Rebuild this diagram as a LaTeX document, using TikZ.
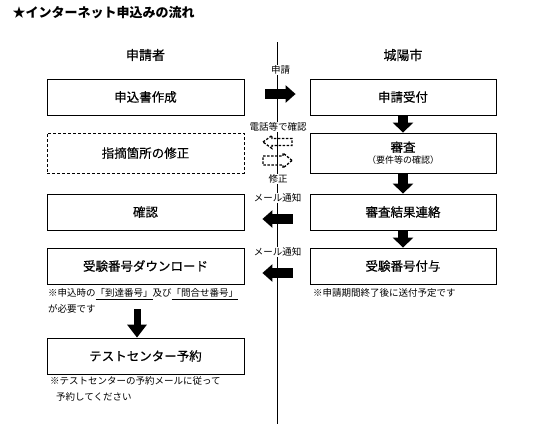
\documentclass[tikz,border=0pt]{standalone}
\usepackage{fontspec}
\setmainfont{Noto Sans CJK JP}
\newfontfamily\boxfont{Noto Sans CJK JP}[FakeBold=0.4]
\usetikzlibrary{arrows.meta, positioning}

\begin{document}
\begin{tikzpicture}[x=1pt, y=-1pt, font=\boxfont\fontsize{12.5}{14}\selectfont]
  \tikzstyle{box} = [draw, line width=0.8pt, minimum height=36pt, inner sep=0pt]
  \tikzstyle{left box} = [box, minimum width=197pt]
  \tikzstyle{right box} = [box, minimum width=186pt]
  \tikzstyle{head} = [font=\boxfont\fontsize{13}{15}\selectfont]
  \tikzstyle{note} = [font=\normalfont\fontsize{9.5}{15.5}\selectfont, align=left, inner sep=0pt, anchor=west]
  \tikzstyle{arrow label} = [font=\normalfont\fontsize{9.5}{11}\selectfont, fill=white, inner sep=1pt]
  \tikzstyle{fat arrow} = [line width=10pt, -{Triangle[width=20pt, length=10pt]}]
  \tikzstyle{side arrow} = [line width=9.5pt, -{Triangle[width=17pt, length=10pt]}]
  \tikzstyle{dash arrow} = [draw, dash pattern=on 2.5pt off 1.5pt, line width=1.3pt, line join=miter]

  \useasboundingbox (0,0) rectangle (553,424);
  \node[anchor=west, font=\normalfont\fontsize{13}{15}\selectfont\bfseries] (title) at (9,13) {★インターネット申込みの流れ};
  \draw[line width=0.8pt] (277,42) -- (277,424);

  \node[head] (shinseisha) at (145.5,55) {申請者};
  \node[head] (joyoshi) at (403,55) {城陽市};

  \node[left box] (sakusei) at (145.5,97) {申込書作成};
  \node[right box] (uketsuke) at (403,97) {申請受付};
  \node[left box, densely dashed, minimum height=40pt] (shusei) at (145.5,153) {指摘箇所の修正};
  \node[right box, minimum height=40pt, align=center] (shinsa) at (403,153)
    {審査\\[-2pt]{\normalfont\fontsize{9}{10}\selectfont （要件等の確認）}};
  \node[left box] (kakunin) at (145.5,212) {確認};
  \node[right box] (renraku) at (403,212) {審査結果連絡};
  \node[left box] (download) at (145.5,266) {受験番号ダウンロード};
  \node[right box] (fuyo) at (403,266) {受験番号付与};
  \node[left box] (yoyaku) at (145.5,356) {テストセンター予約};

  \node[note] (chui1) at (48,301) {※申込時の\underline{「到達番号」}及び\underline{「問合せ番号」}\\が必要です};
  \node[note] (chui2) at (313,293) {※申請期間終了後に送付予定です};
  \node[note] (chui3) at (50,389) {※テストセンターの予約メールに従って\\\hspace{6pt}予約してください};

  \draw[fat arrow] (uketsuke) -- (shinsa);
  \draw[fat arrow] (shinsa) -- (renraku);
  \draw[fat arrow] (renraku) -- (fuyo);
  \coordinate (yajirushi) at (137,309);
  \draw[line width=7pt, -{Triangle[width=19pt, length=13pt]}] (yajirushi) -- (yajirushi |- yoyaku.north);

  \draw[side arrow] ([xshift=21pt, yshift=3pt]sakusei.east) -- ([xshift=-14pt, yshift=3pt]uketsuke.west)
    node[midway, arrow label, above=14pt] {申請};
  \draw[side arrow] ([xshift=-17pt, yshift=-7pt]renraku.west) -- ([xshift=18pt, yshift=-7pt]kakunin.east)
    node[midway, arrow label, above=11pt] {メール通知};
  \draw[side arrow] ([xshift=-17pt, yshift=-7pt]fuyo.west) -- ([xshift=18pt, yshift=-7pt]download.east)
    node[midway, arrow label, above=11pt] {メール通知};

  % dashed outline arrows
  \draw[dash arrow] (263,142) -- (272,135.5) -- (272,138.5) -- (292,138.5) -- (292,145.5)
    -- (272,145.5) -- (272,148.5) -- cycle;
  \draw[dash arrow] (292,160.5) -- (283,153) -- (283,156) -- (263,156) -- (263,165)
    -- (283,165) -- (283,168) -- cycle;
  \node[arrow label] (denwa) at (278,127) {電話等で確認};
  \node[arrow label] (shusei label) at (278,179) {修正};
\end{tikzpicture}
\end{document}
